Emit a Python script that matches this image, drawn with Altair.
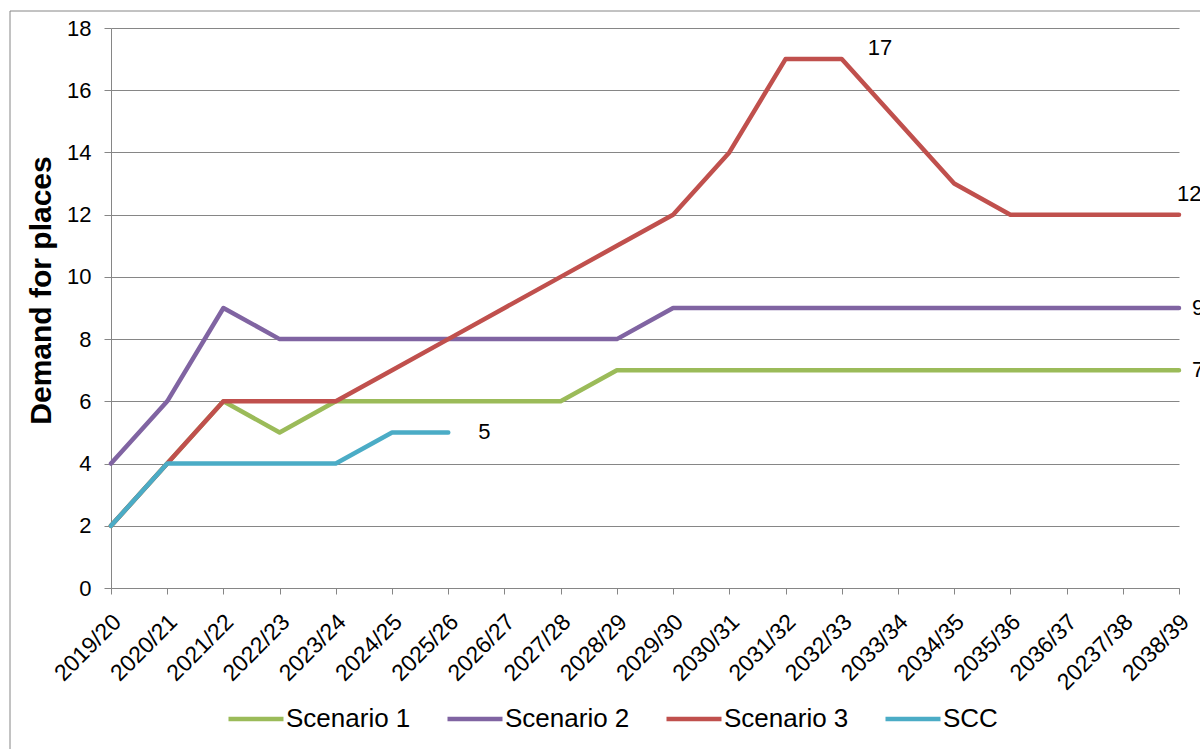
import altair as alt
import pandas as pd

years = ["2019/20", "2020/21", "2021/22", "2022/23", "2023/24", "2024/25", "2025/26",
         "2026/27", "2027/28", "2028/29", "2029/30", "2030/31", "2031/32", "2032/33",
         "2033/34", "2034/35", "2035/36", "2036/37", "20237/38", "2038/39"]
scenario1 = [2, 4, 6, 5, 6, 6, 6, 6, 6, 7, 7, 7, 7, 7, 7, 7, 7, 7, 7, 7]
scenario2 = [4, 6, 9, 8, 8, 8, 8, 8, 8, 8, 9, 9, 9, 9, 9, 9, 9, 9, 9, 9]
scenario3 = [2, 4, 6, 6, 6, 7, 8, 9, 10, 11, 12, 14, 17, 17, 15, 13, 12, 12, 12, 12]
scc = [2, 4, 4, 4, 4, 5, 5]
series_names = ["Scenario 1", "Scenario 2", "Scenario 3", "SCC"]
series_colors = ["#9BBB59", "#8064A2", "#C0504D", "#4BACC6"]
y_ticks = [0, 2, 4, 6, 8, 10, 12, 14, 16, 18]

rows = []
for name, vals in zip(series_names, [scenario1, scenario2, scenario3, scc]):
    for i, (yr, v) in enumerate(zip(years, vals)):
        rows.append({"Year": yr, "Value": v, "Series": name, "idx": i})
df = pd.DataFrame(rows)

FONT = "Liberation Sans"
GREY = "#868686"

x_enc = alt.X("Year:N", sort=years,
              scale=alt.Scale(domain=years, type="point", padding=0),
              axis=alt.Axis(title=None, grid=False, labelAngle=315, labelAlign="right",
                            labelBaseline="middle", labelPadding=24, labelOffset=6, tickSize=6,
                            labelFontSize=23, labelFont=FONT, labelColor="black",
                            domainColor=GREY, tickColor=GREY, labelOverlap=False))
y_enc = alt.Y("Value:Q", scale=alt.Scale(domain=[0, 18], nice=False),
              axis=alt.Axis(values=y_ticks, title="Demand for places", grid=True,
                            gridColor=GREY, gridWidth=1, tickSize=7, labelPadding=13,
                            labelFontSize=22, labelFont=FONT, labelColor="black",
                            domainColor=GREY, tickColor=GREY,
                            titleFont=FONT, titleFontSize=30, titleFontWeight="bold",
                            titleColor="black", titleAngle=270, titleX=-61, titleY=262,
                            titleAlign="center", titleBaseline="alphabetic"))
color_enc = alt.Color("Series:N",
                      scale=alt.Scale(domain=series_names, range=series_colors),
                      legend=alt.Legend(title=None, orient="none", legendX=115, legendY=661,
                                        direction="horizontal", symbolType="stroke",
                                        symbolSize=3025, symbolStrokeWidth=4.5,
                                        labelFontSize=26, labelFont=FONT, labelColor="black",
                                        labelOffset=0, columnPadding=27))

frame = alt.Chart(pd.DataFrame({"a": [0]})).mark_rect(
    filled=False, stroke=GREY, strokeWidth=1
).encode(x=alt.value(-101), x2=alt.value(1300), y=alt.value(-17), y2=alt.value(900))

lines = alt.Chart(df).mark_line(strokeWidth=4.5, strokeCap="round", strokeJoin="round").encode(
    x=x_enc, y=y_enc, color=color_enc, order=alt.Order("idx:Q")
)


def label(series, year, dx, dy):
    return alt.Chart(df).transform_filter(
        (alt.datum.Series == series) & (alt.datum.Year == year)
    ).mark_text(align="left", baseline="middle", dx=dx, dy=dy, fontSize=22,
                font=FONT, color="black").encode(
        x=alt.X("Year:N", sort=years, scale=alt.Scale(domain=years, type="point", padding=0)),
        y=alt.Y("Value:Q"),
        text=alt.Text("Value:Q"),
    )


labels = [
    label("Scenario 3", years[13], 26, -11),
    label("Scenario 3", years[19], -2, -21),
    label("Scenario 2", years[19], 13, 0),
    label("Scenario 1", years[19], 13, 0),
    label("SCC", years[6], 30, 0),
]

chart = alt.layer(frame, lines, *labels).properties(
    width=1068, height=560,
    autosize=alt.AutoSizeParams(type="none"),
    padding={"left": 111, "top": 28, "right": 21, "bottom": 161},
    background="white",
).configure_view(stroke=None)

chart.save("out.html", embed_options={"renderer": "svg", "actions": False})
